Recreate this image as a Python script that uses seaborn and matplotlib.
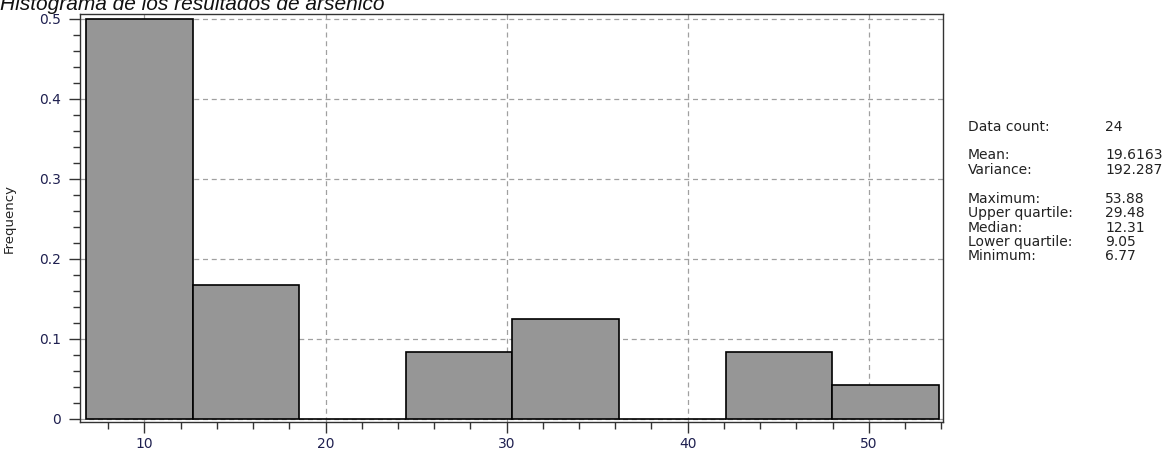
import matplotlib
matplotlib.use("Agg")
import matplotlib.pyplot as plt
from matplotlib.ticker import MultipleLocator, FuncFormatter
import numpy as np
import pandas as pd
import seaborn as sns

# Arsenic results: 8 equal-width classes between min and max
bin_min = 6.77
bin_max = 53.88
n_bins = 8
frequencies = [0.5, 0.1667, 0.0, 0.0833, 0.125, 0.0, 0.0833, 0.0417]

stat_labels = ["Data count:", "Mean:", "Variance:", "Maximum:",
               "Upper quartile:", "Median:", "Lower quartile:", "Minimum:"]
stat_values = ["24", "19.6163", "192.287", "53.88", "29.48", "12.31", "9.05", "6.77"]

edges = np.linspace(bin_min, bin_max, n_bins + 1)
centers = (edges[:-1] + edges[1:]) / 2
df = pd.DataFrame({"value": centers, "freq": frequencies})

sns.set_style("white")
plt.rcParams["font.family"] = ["DejaVu Sans"]

fig = plt.figure(figsize=(11.73, 4.5), dpi=100)
ax = fig.add_axes([80 / 1173, 1 - 422 / 450, (943 - 80) / 1173, (422 - 14) / 450])

sns.histplot(data=df, x="value", weights="freq", bins=n_bins,
             binrange=(bin_min, bin_max), ax=ax,
             color="#969696", alpha=1, edgecolor="black", linewidth=1.2,
             zorder=3)

ax.set_xlim(6.44, 54.1)
ax.set_ylim(-0.004, 0.506)
ax.xaxis.set_major_locator(MultipleLocator(10))
ax.xaxis.set_minor_locator(MultipleLocator(2))
ax.yaxis.set_major_locator(MultipleLocator(0.1))
ax.yaxis.set_minor_locator(MultipleLocator(0.02))
ax.yaxis.set_major_formatter(FuncFormatter(
    lambda v, p: "0" if abs(v) < 1e-9 else f"{v:.1f}"))

ax.grid(True, which="major", color="#a0a0a0", linestyle=(0, (4, 3)),
        linewidth=0.9, zorder=0)
ax.set_axisbelow(True)

for s in ax.spines.values():
    s.set_visible(True)
    s.set_color("#333333")
    s.set_linewidth(1.0)

tick_color = "#1f2050"
ax.tick_params(axis="both", which="major", direction="out", length=8.2,
               width=1, color="#333333", labelsize=10, labelcolor=tick_color,
               bottom=True, left=True)
ax.tick_params(axis="both", which="minor", direction="out", length=5,
               width=1, color="#333333", bottom=True, left=True)
ax.tick_params(axis="x", which="major", pad=2.5)
ax.tick_params(axis="y", which="major", pad=5.5)

ax.set_xlabel("")
ax.set_ylabel("Frequency", fontsize=9.5, color="#222222")
ax.yaxis.set_label_coords(-0.074, 0.50)

fig.text(0.0, 1 - 10.5 / 450, "Histograma de los resultados de arsénico",
         fontsize=15, style="italic", family="Liberation Sans",
         ha="left", va="baseline", color="#111111")

row_y = [127, 155, 170, 199, 213, 228, 242, 256]
for lab, val, y in zip(stat_labels, stat_values, row_y):
    fig.text(968 / 1173, 1 - y / 450, lab, fontsize=10, color="#222222",
             ha="left", va="center")
    fig.text(1105 / 1173, 1 - y / 450, val, fontsize=10, color="#222222",
             ha="left", va="center")

fig.savefig("out.png", dpi=100)
